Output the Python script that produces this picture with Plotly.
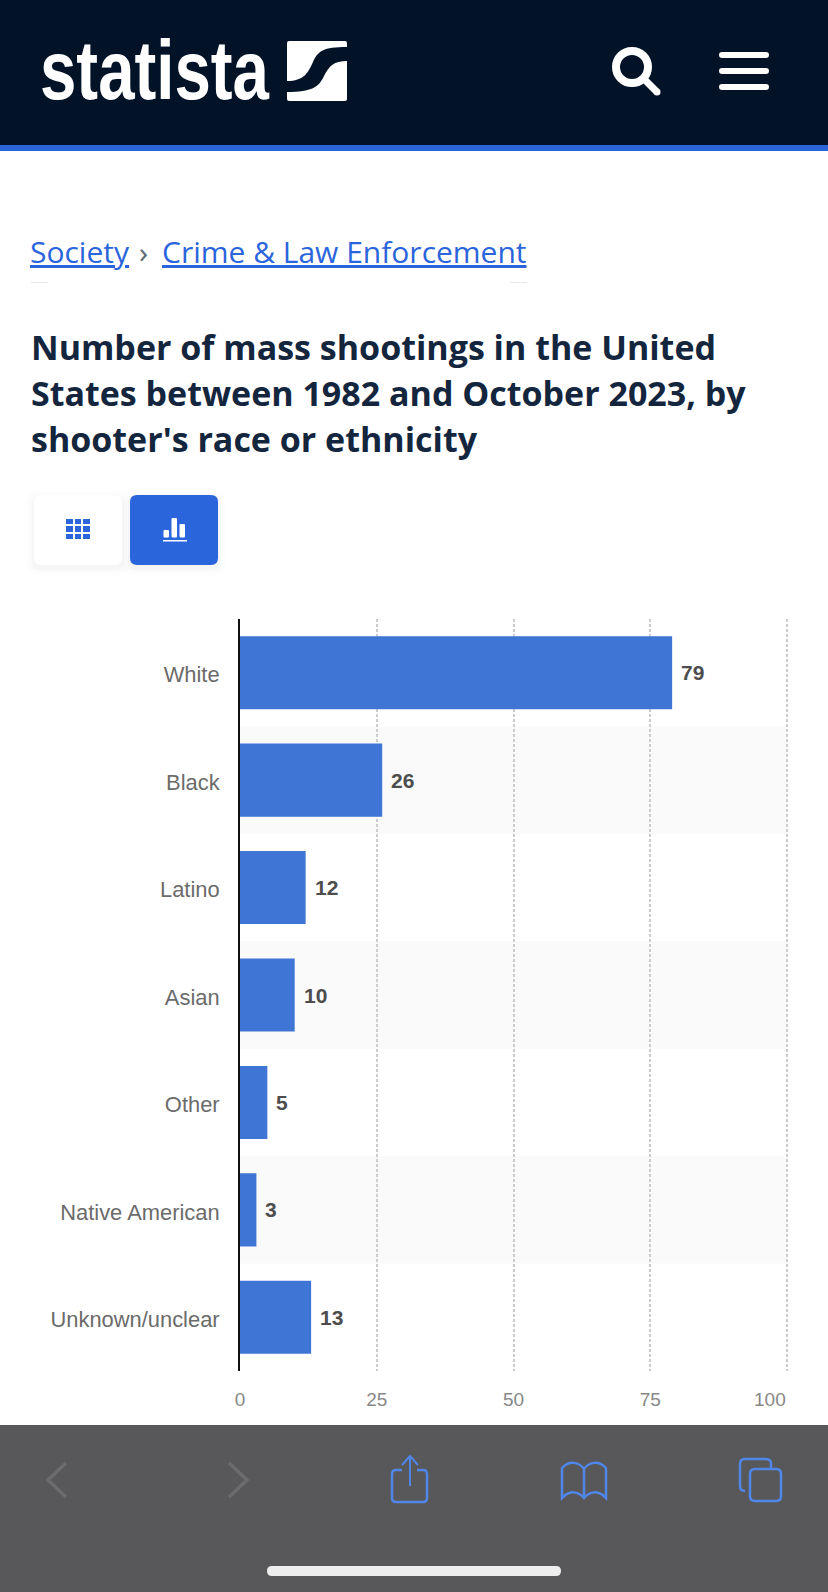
import plotly.graph_objects as go

W, H = 828, 1592

# Chart data
categories = ["White", "Black", "Latino", "Asian", "Other", "Native American", "Unknown/unclear"]
shootings = [79, 26, 12, 10, 5, 3, 13]
x_ticks = [0, 25, 50, 75, 100]
x_tick_labels = ["0", "25", "50", "75", ""]
title_lines = [
    "Number of mass shootings in the United",
    "States between 1982 and October 2023, by",
    "shooter's race or ethnicity",
]

NAVY = "#021327"
BLUE = "#2b65dc"
ICON = "#4f86e8"
BAR = "#3f75d5"
PANEL = "#58585a"


def fx(x):
    return x / W


def fy(y):
    return 1 - y / H


def path(cmds):
    """Build an SVG path in paper coordinates from page-pixel commands."""
    out = []
    for c in cmds:
        if isinstance(c, str):
            out.append(c)
        else:
            out.append(f"{fx(c[0]):.5f},{fy(c[1]):.5f}")
    return " ".join(out)


def rrect(x0, y0, x1, y1, r):
    return path([
        "M", (x0 + r, y0), "L", (x1 - r, y0),
        "Q", (x1, y0), (x1, y0 + r), "L", (x1, y1 - r),
        "Q", (x1, y1), (x1 - r, y1), "L", (x0 + r, y1),
        "Q", (x0, y1), (x0, y1 - r), "L", (x0, y0 + r),
        "Q", (x0, y0), (x0 + r, y0), "Z",
    ])


def fill(p, color, opacity=1):
    return dict(type="path", xref="paper", yref="paper", path=p, fillcolor=color,
                line=dict(width=0), opacity=opacity, layer="above")


def stroke(p, color, width):
    return dict(type="path", xref="paper", yref="paper", path=p,
                line=dict(color=color, width=width), layer="above")


def box(x0, y0, x1, y1, color, r=0, opacity=1):
    return fill(rrect(x0, y0, x1, y1, r) if r else path(
        ["M", (x0, y0), "L", (x1, y0), "L", (x1, y1), "L", (x0, y1), "Z"]), color, opacity)


def label(x, y, text, size, color, family, anchor="left", bold=False):
    return dict(xref="paper", yref="paper", x=fx(x), y=fy(y), text=f"<b>{text}</b>" if bold else text,
                showarrow=False, xanchor=anchor, yanchor="middle", align=anchor,
                font=dict(size=size, color=color, family=family), borderpad=0)


shapes = []
annotations = []

# Alternating row bands behind the bars
for i in range(1, len(categories), 2):
    shapes.append(dict(type="rect", xref="x", yref="y", x0=0, x1=x_ticks[-1],
                       y0=i - 0.5, y1=i + 0.5, fillcolor="#fafafa", line=dict(width=0), layer="below"))

# Site header
shapes += [box(0, 0, W, 145, NAVY), box(0, 145, W, 151, BLUE)]
shapes.append(box(287, 41, 347, 101, "#ffffff", r=2))
shapes.append(fill(path([
    "M", (287, 81), "C", (304, 81), (308, 73), (313, 62), "C", (318, 51), (323, 47), (347, 47),
    "L", (347, 61), "C", (334, 61), (329, 66), (324, 76), "C", (319, 87), (312, 92), (287, 92), "Z",
]), NAVY))
annotations.append(label(38.5, 70, "statista", 84, "#ffffff", "Liberation Sans", bold=True))

# Search glass and menu bars
shapes.append(dict(type="circle", xref="paper", yref="paper", x0=fx(616), x1=fx(648), y0=fy(51), y1=fy(83),
                   line=dict(color="#ffffff", width=8), layer="above"))
shapes.append(stroke(path(["M", (644, 79), "L", (657, 92)]), "#ffffff", 7))
shapes.append(dict(type="circle", xref="paper", yref="paper", x0=fx(653.5), x1=fx(660.5), y0=fy(88.5), y1=fy(95.5),
                   fillcolor="#ffffff", line=dict(width=0), layer="above"))
for top in (52, 68, 84):
    shapes.append(box(719, top, 769, top + 6, "#ffffff", r=3))

# Breadcrumb
annotations.append(label(29, 252, "<u>Society</u>", 30, BLUE, "Open Sans"))
annotations.append(label(138, 252, "›", 30, "#5d6670", "Open Sans"))
annotations.append(label(161, 252, "<u>Crime &amp; Law Enforcement</u>", 30, BLUE, "Open Sans"))
for a, b in ((31, 48), (510, 527)):
    shapes.append(box(a, 282, b, 283, "#e8e8e8"))

# Title
for line, y in zip(title_lines, (347, 393, 439)):
    annotations.append(label(29.5, y, line, 34, "#14263e", "Open Sans", bold=True))

# Table / chart view toggles
for spread, alpha in ((7, 0.006), (4, 0.01), (2, 0.015)):
    shapes.append(box(34 - spread, 495 - spread + 3, 122 + spread, 565 + spread + 3, "#000000", r=9, opacity=alpha))
    shapes.append(box(130 - spread, 495 - spread + 3, 218 + spread, 565 + spread + 3, "#000000", r=9, opacity=alpha))
shapes.append(box(34, 495, 122, 565, "#ffffff", r=7))
shapes.append(box(130, 495, 218, 565, BLUE, r=7))
for cx0, cx1 in ((66, 73), (75, 81), (83, 90)):
    for cy0, cy1 in ((519, 524), (526, 532), (534, 539)):
        shapes.append(box(cx0, cy0, cx1, cy1, BLUE))
for bx0, bx1, top in ((163.5, 169, 530), (171.5, 177, 518), (179.5, 185, 524)):
    shapes.append(box(bx0, top, bx1, 537.5, "#ffffff", r=1))
shapes.append(box(163, 540, 187, 541.5, "#ffffff"))

# Browser toolbar
shapes.append(box(0, 1425, W, H, PANEL))
shapes.append(stroke(path(["M", (66, 1463), "L", (48, 1480), "L", (66, 1497)]), "#6c6c6e", 3.5))
shapes.append(stroke(path(["M", (229, 1463), "L", (247, 1480), "L", (229, 1497)]), "#6c6c6e", 3.5))
# share
shapes.append(stroke(path(["M", (402, 1470), "L", (396, 1470), "Q", (392, 1470), (392, 1474), "L", (392, 1498),
                           "Q", (392, 1502), (396, 1502), "L", (423, 1502), "Q", (427, 1502), (427, 1498),
                           "L", (427, 1474), "Q", (427, 1470), (423, 1470), "L", (417, 1470)]), ICON, 2.5))
shapes.append(stroke(path(["M", (410, 1486), "L", (410, 1457)]), ICON, 2))
shapes.append(stroke(path(["M", (402, 1465), "L", (410, 1456), "L", (418, 1465)]), ICON, 2))
# bookmarks
shapes.append(stroke(path(["M", (584, 1469), "C", (580, 1463), (570, 1459), (562, 1468), "L", (562, 1498),
                           "C", (570, 1490), (578, 1491), (584, 1498), "C", (590, 1491), (598, 1490), (606, 1498),
                           "L", (606, 1468), "C", (598, 1459), (588, 1463), (584, 1469), "L", (584, 1496)]), ICON, 2.5))
# tabs
shapes.append(stroke(path(["M", (745, 1491), "Q", (740, 1491), (740, 1486), "L", (740, 1464), "Q", (740, 1459), (745, 1459),
                           "L", (766, 1459), "Q", (771, 1459), (771, 1464), "L", (771, 1468)]), ICON, 2.5))
shapes.append(dict(type="path", xref="paper", yref="paper", path=rrect(750, 1469, 781, 1501, 5),
                   line=dict(color=ICON, width=2.5), layer="above"))
shapes.append(box(267, 1566, 561, 1576, "#eeeeee", r=5))

# Value labels sit a fixed gap past the bar ends
for cat, val in zip(categories, shootings):
    annotations.append(dict(xref="x", yref="y", x=val, y=cat, text=f"<b>{val}</b>", showarrow=False,
                            xanchor="left", yanchor="middle", xshift=7,
                            font=dict(size=21, color="#4d4d4d", family="Liberation Sans")))
# The last axis label is pulled inside the plot edge
annotations.append(dict(xref="x", yref="paper", x=x_ticks[-1], y=fy(1399), text="100", showarrow=False,
                        xanchor="right", yanchor="middle", xshift=1,
                        font=dict(size=19, color="#888888", family="Liberation Sans")))

fig = go.Figure(go.Bar(
    x=shootings, y=categories, orientation="h",
    marker=dict(color=BAR, line=dict(width=0)), width=0.68,
    hoverinfo="x+y",
))
fig.update_layout(
    width=W, height=H, autosize=False,
    margin=dict(l=0, r=0, t=0, b=0, pad=0, autoexpand=False),
    paper_bgcolor="#ffffff", plot_bgcolor="rgba(0,0,0,0)",
    showlegend=False, shapes=shapes, annotations=annotations,
    xaxis=dict(
        domain=[fx(240), fx(240 + 5.47 * 100.6)], range=[0, 100.6], tickmode="array",
        tickvals=x_ticks, ticktext=x_tick_labels, automargin=False,
        showgrid=True, gridcolor="#cccccc", gridwidth=2, griddash="3px,2px",
        zeroline=False, showline=False, ticks="", ticklabelstandoff=15,
        tickfont=dict(size=19, color="#888888", family="Liberation Sans"),
    ),
    yaxis=dict(
        domain=[fy(1371), fy(619)], categoryorder="array", categoryarray=categories,
        range=[6.5, -0.5], showgrid=False, zeroline=False, automargin=False,
        showline=True, linecolor="#111111", linewidth=2, ticks="", ticklabelstandoff=14,
        ticklabelshift=-2,
        tickfont=dict(size=21.9, color="#6b6b6b", family="Liberation Sans"),
    ),
)

# The wordmark is a condensed cut: squeeze the bold text horizontally about its left edge
condense_wordmark = """
function condense() {
  document.querySelectorAll('.annotation-text').forEach(function (el) {
    if (el.textContent !== 'statista') return;
    var b = el.getBBox();
    var s = 230 / b.width;
    el.setAttribute('transform', 'translate(' + (b.x * (1 - s)) + ',0) scale(' + s + ',1)');
  });
}
condense();
setTimeout(condense, 100);
"""
fig.write_html("out.html", config=dict(displayModeBar=False), post_script=condense_wordmark)
